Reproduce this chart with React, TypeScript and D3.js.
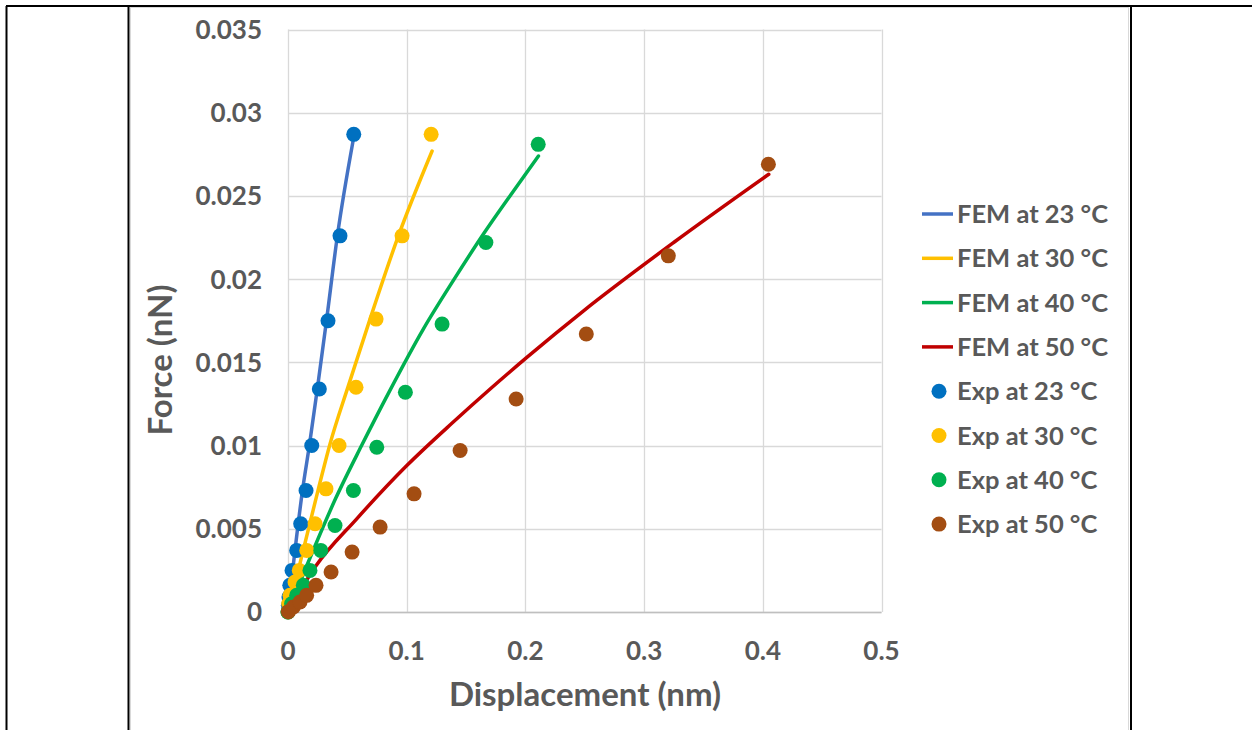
import React from "react";
import * as d3 from "d3";

// ---------- data ----------
const xTicks = [0, 0.1, 0.2, 0.3, 0.4, 0.5];
const yTicks = [0, 0.005, 0.01, 0.015, 0.02, 0.025, 0.03, 0.035];

// FEM curves: [displacement, force]
const fem23: [number, number][] = [
  [0, 0], [0.0124, 0.0074], [0.018, 0.0100], [0.0247, 0.0134], [0.0326, 0.0176], [0.0416, 0.0226], [0.0548, 0.0283],
];
const fem30: [number, number][] = [
  [0, 0], [0.0256, 0.0074], [0.0354, 0.0101], [0.0509, 0.0136], [0.0691, 0.0176], [0.093, 0.0226], [0.1214, 0.0277],
];
const fem40: [number, number][] = [
  [0, 0], [0.02, 0.0035], [0.04, 0.0068], [0.062, 0.0100], [0.085, 0.0132], [0.114, 0.0170], [0.14, 0.0200], [0.1655, 0.0228], [0.19, 0.0253], [0.211, 0.0274],
];
const fem50: [number, number][] = [
  [0, 0], [0.0228, 0.0027], [0.0579, 0.0056], [0.1001, 0.0088], [0.139, 0.0114], [0.1703, 0.0134], [0.2012, 0.0153], [0.249, 0.0181], [0.3249, 0.0222], [0.405, 0.0263],
];

// Experimental points
const exp23: [number, number][] = [
  [0, 0], [0.0003, 0.0004], [0.0008, 0.0009], [0.0015, 0.0016], [0.0034, 0.0025], [0.0073, 0.0037], [0.0107, 0.0053], [0.0152, 0.0073], [0.0200, 0.0100], [0.0264, 0.0134], [0.0337, 0.0175], [0.0438, 0.0226], [0.0554, 0.0287],
];
const exp30: [number, number][] = [
  [0, 0], [0.0006, 0.0005], [0.0017, 0.0010], [0.0059, 0.0018], [0.0095, 0.0025], [0.0158, 0.0037], [0.0228, 0.0053], [0.0320, 0.0074], [0.0430, 0.0100], [0.0573, 0.0135], [0.0742, 0.0176], [0.0961, 0.0226], [0.1206, 0.0287],
];
const exp40: [number, number][] = [
  [0, 0], [0.0030, 0.0005], [0.0073, 0.0010], [0.0129, 0.0016], [0.0185, 0.0025], [0.0276, 0.0037], [0.0396, 0.0052], [0.0551, 0.0073], [0.0748, 0.0099], [0.0989, 0.0132], [0.1298, 0.0173], [0.1667, 0.0222], [0.2108, 0.0281],
];
const exp50: [number, number][] = [
  [0.0003, 0.00002], [0.0045, 0.0003], [0.0101, 0.0006], [0.0157, 0.0010], [0.0236, 0.0016], [0.0363, 0.0024], [0.054, 0.0036], [0.0776, 0.0051], [0.1062, 0.0071], [0.145, 0.0097], [0.1922, 0.0128], [0.2513, 0.0167], [0.3204, 0.0214], [0.4047, 0.0269],
];

const femSeries = [
  { name: "FEM at 23 °C", color: "#4472C4", data: fem23 },
  { name: "FEM at 30 °C", color: "#FFC000", data: fem30 },
  { name: "FEM at 40 °C", color: "#00B050", data: fem40 },
  { name: "FEM at 50 °C", color: "#C00000", data: fem50 },
];
const expSeries = [
  { name: "Exp at 23 °C", color: "#0070C0", data: exp23 },
  { name: "Exp at 30 °C", color: "#FFC000", data: exp30 },
  { name: "Exp at 40 °C", color: "#00B050", data: exp40 },
  { name: "Exp at 50 °C", color: "#A34D12", data: exp50 },
];

const W = 1252;
const H = 730;
const FONT = "Lato, 'Open Sans', sans-serif";
const TXT = "#595959";

export default function App() {
  const x = d3.scaleLinear().domain([0, 0.5]).range([288, 881.5]);
  const y = d3.scaleLinear().domain([0, 0.035]).range([612, 29.5]);
  const line = d3
    .line<[number, number]>()
    .x((d) => x(d[0]))
    .y((d) => y(d[1]))
    .curve(d3.curveMonotoneX);

  const legendX = 922;
  const legendY0 = 214;
  const legendStep = 44.3;
  const legendItems = [...femSeries.map((s) => ({ ...s, kind: "line" })), ...expSeries.map((s) => ({ ...s, kind: "dot" }))];

  return (
    <svg
      width={W}
      height={H}
      style={{ position: "absolute", left: 0, top: 0, display: "block", background: "#fff" }}
      fontFamily={FONT}
    >
      <rect x={0} y={0} width={W} height={H} fill="#fff" />
      {/* table frame */}
      <line x1={6} y1={6} x2={W} y2={6} stroke="#000" strokeWidth={2} />
      <line x1={6.5} y1={6} x2={6.5} y2={H} stroke="#000" strokeWidth={2} />
      <line x1={128.5} y1={6} x2={128.5} y2={H} stroke="#000" strokeWidth={2} />
      <line x1={1131} y1={6} x2={1131} y2={H} stroke="#000" strokeWidth={2} />
      {/* chart area border */}
      <rect x={130.5} y={7.5} width={998} height={H} fill="none" stroke="#d9d9d9" strokeWidth={1} />

      {/* gridlines */}
      {yTicks.map((t) => (
        <line key={"gy" + t} x1={x(0)} x2={x(0.5)} y1={Math.round(y(t)) + 0.5} y2={Math.round(y(t)) + 0.5} stroke="#d9d9d9" strokeWidth={1.3} />
      ))}
      {xTicks.map((t) => (
        <line key={"gx" + t} x1={Math.round(x(t)) + 0.5} x2={Math.round(x(t)) + 0.5} y1={y(0)} y2={y(0.035)} stroke="#d9d9d9" strokeWidth={1.3} />
      ))}
      <line x1={x(0)} x2={x(0.5)} y1={Math.round(y(0)) + 0.5} y2={Math.round(y(0)) + 0.5} stroke="#bfbfbf" strokeWidth={1.3} />

      {/* y tick labels */}
      {yTicks.map((t) => (
        <text key={"ty" + t} x={262} y={y(t)} dy="0.36em" textAnchor="end" fontSize={26} fontWeight={700} fill={TXT}>
          {t === 0 ? "0" : String(t)}
        </text>
      ))}
      {/* x tick labels */}
      {xTicks.map((t) => (
        <text key={"tx" + t} x={x(t)} y={651} dy="0.36em" textAnchor="middle" fontSize={26} fontWeight={700} fill={TXT}>
          {String(t)}
        </text>
      ))}

      {/* axis titles */}
      <text x={585} y={694} dy="0.36em" textAnchor="middle" fontSize={33} fontWeight={700} fill={TXT}>
        Displacement (nm)
      </text>
      <text
        transform={`translate(160,360) rotate(-90)`}
        dy="0.36em"
        textAnchor="middle"
        fontSize={33}
        fontWeight={700}
        fill={TXT}
      >
        Force (nN)
      </text>

      {/* FEM lines */}
      {femSeries.map((s) => (
        <path key={s.name} d={line(s.data) || ""} fill="none" stroke={s.color} strokeWidth={3.5} strokeLinecap="round" />
      ))}
      {/* Exp points */}
      {expSeries.map((s) => (
        <g key={s.name}>
          {s.data.map((d, i) => (
            <circle key={i} cx={x(d[0])} cy={y(d[1])} r={7.5} fill={s.color} />
          ))}
        </g>
      ))}

      {/* legend */}
      {legendItems.map((s, i) => {
        const cy = legendY0 + i * legendStep;
        return (
          <g key={"lg" + i}>
            {s.kind === "line" ? (
              <line x1={legendX} x2={legendX + 31} y1={cy} y2={cy} stroke={s.color} strokeWidth={3.5} />
            ) : (
              <circle cx={legendX + 17} cy={cy} r={7.5} fill={s.color} />
            )}
            <text x={957} y={cy} dy="0.36em" fontSize={25.5} fontWeight={700} fill={TXT}>
              {s.name}
            </text>
          </g>
        );
      })}
    </svg>
  );
}
